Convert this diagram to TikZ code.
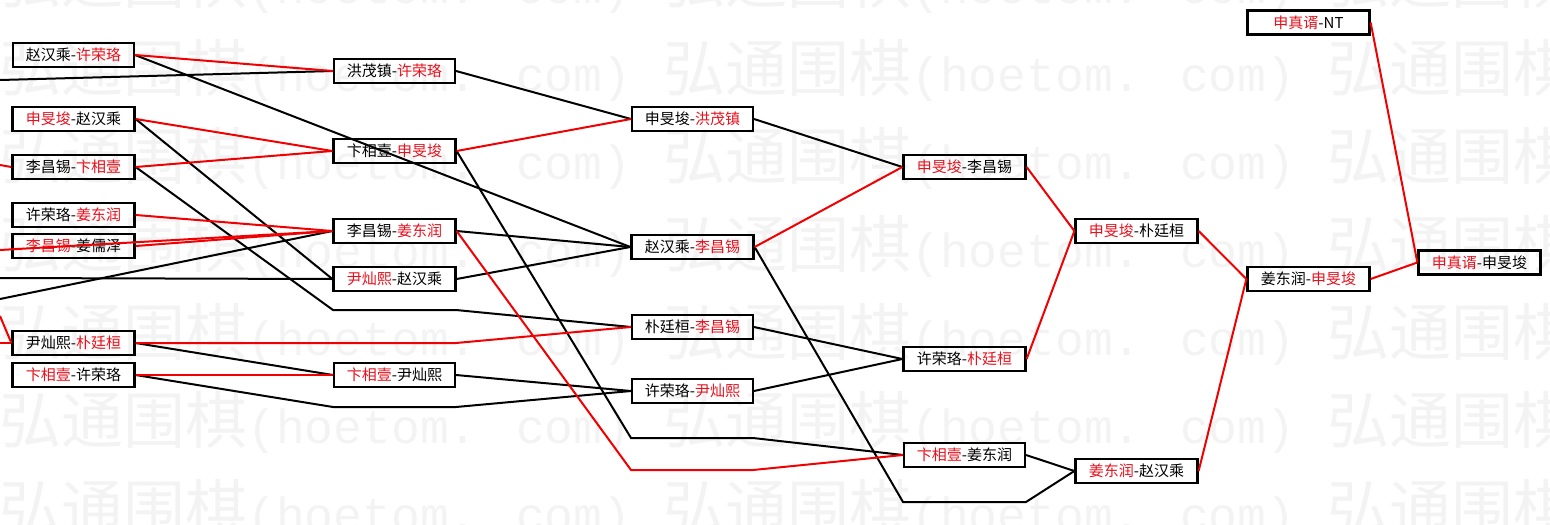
\documentclass[tikz,border=0pt]{standalone}
\usepackage{fontspec}
\newfontfamily\cjk{Noto Sans CJK SC}
\newfontfamily\wmlat{Liberation Mono}
\definecolor{wm}{RGB}{243,243,243}
\definecolor{tr}{RGB}{232,16,28}
\definecolor{lr}{RGB}{240,0,0}
\newcommand\R[1]{\textcolor{tr}{#1}}
\begin{document}
\begin{tikzpicture}[x=0.75pt,y=-0.75pt,
  box/.style={draw=black, line width=1.3pt, minimum width=91pt, minimum height=18pt, inner sep=0pt, font=\cjk\fontsize{11.25}{13}\selectfont},
  boxb/.style={box, line width=2.2pt},
  kl/.style={draw=black, line width=1.5pt},
  rl/.style={draw=lr, line width=1.5pt},
  wmc/.style={inner sep=0pt, text=wm, font=\cjk\fontsize{46.5}{50}\selectfont},
  wml/.style={inner sep=0pt, text=wm, font=\wmlat\fontsize{36}{40}\selectfont}]
\useasboundingbox (0,0) rectangle (1550,525);
\begin{scope}
\clip (0,0) rectangle (1550,525);
\foreach \rowy [count=\i] in {-20,68,156,244,332,420,508} {
  \foreach \colx [count=\j] in {-1,663,1327} {
    \node[wmc, anchor=base west] (wmc-\i-\j) at (\colx,\rowy+23) {弘通围棋};
    \node[wml, anchor=base west] (wml-\i-\j) at (\colx+248,\rowy+23) {(hoetom. com)};
  }
}
\end{scope}
% column 1
\node[box]  (A1) at (73.5,55)  {赵汉乘-\R{许荣珞}};
\node[boxb] (A2) at (73.5,119) {\R{申旻埈}-赵汉乘};
\node[boxb] (A3) at (73.5,167) {李昌锡-\R{卞相壹}};
\node[boxb] (A4) at (73.5,215) {许荣珞-\R{姜东润}};
\node[boxb] (A5) at (73.5,246) {\R{李昌锡}-姜儒泽};
\node[boxb] (A6) at (73.5,343) {尹灿熙-\R{朴廷桓}};
\node[boxb] (A7) at (73.5,375) {\R{卞相壹}-许荣珞};
% column 2
\node[box]  (B1) at (394.5,71)  {洪茂镇-\R{许荣珞}};
\node[boxb] (B2) at (394.5,151) {卞相壹-\R{申旻埈}};
\node[boxb] (B3) at (394.5,231) {李昌锡-\R{姜东润}};
\node[boxb] (B4) at (394.5,279) {\R{尹灿熙}-赵汉乘};
\node[box]  (B5) at (394.5,375) {\R{卞相壹}-尹灿熙};
% column 3
\node[box]  (C1) at (692.5,119) {申旻埈-\R{洪茂镇}};
\node[boxb] (C2) at (692.5,247) {赵汉乘-\R{李昌锡}};
\node[box]  (C3) at (692.5,327) {朴廷桓-\R{李昌锡}};
\node[box]  (C4) at (692.5,391) {许荣珞-\R{尹灿熙}};
% column 4
\node[boxb] (D1) at (964.5,167) {\R{申旻埈}-李昌锡};
\node[boxb] (D2) at (964.5,359) {许荣珞-\R{朴廷桓}};
\node[box]  (D3) at (964.5,455) {\R{卞相壹}-姜东润};
% column 5
\node[boxb] (E1) at (1136.5,231) {\R{申旻埈}-朴廷桓};
\node[boxb] (E2) at (1136.5,471) {\R{姜东润}-赵汉乘};
% column 6
\node[boxb] (F1) at (1308.5,22.5) {\R{申真谞}-NT};
\node[boxb] (F2) at (1308.5,279) {姜东润-\R{申旻埈}};
% column 7
\node[boxb] (G1) at (1479.5,262.5) {\R{申真谞}-申旻埈};
% free ends and bends
\coordinate (L1) at (0,80);
\coordinate (L2) at (0,165);
\coordinate (L3) at (0,250);
\coordinate (L4) at (0,278);
\coordinate (L5) at (0,299);
\coordinate (L6) at (0,316);
\coordinate (L7) at (0,343);
\coordinate (P1a) at (333,310); \coordinate (P1b) at (456,310);
\coordinate (P2a) at (333,343); \coordinate (P2b) at (456,343);
\coordinate (P3a) at (333,407); \coordinate (P3b) at (456,407);
\coordinate (Q1a) at (631,438); \coordinate (Q1b) at (753,438);
\coordinate (Q2a) at (631,470); \coordinate (Q2b) at (753,470);
\coordinate (S1a) at (903,502); \coordinate (S1b) at (1026,502);
% black connectors
\draw[kl] (A1.east) -- (C2.west);
\draw[kl] (L1) -- (B1.west);
\draw[kl] (A2.east) -- (B4.west);
\draw[kl] (A3.east) -- (P1a) -- (P1b) -- (C3.west);
\draw[kl] (L5) -- (B3.west);
\draw[kl] (L4) -- (B4.west);
\draw[kl] (A6.east) -- (B5.west);
\draw[kl] (A7.east) -- (P3a) -- (P3b) -- (C4.west);
\draw[kl] (B1.east) -- (C1.west);
\draw[kl] (B2.east) -- (Q1a) -- (Q1b) -- (D3.west);
\draw[kl] (B3.east) -- (C2.west);
\draw[kl] (B4.east) -- (C2.west);
\draw[kl] (B5.east) -- (C4.west);
\draw[kl] (C1.east) -- (D1.west);
\draw[kl] (C2.east) -- (S1a) -- (S1b) -- (E2.west);
\draw[kl] (C3.east) -- (D2.west);
\draw[kl] (C4.east) -- (D2.west);
\draw[kl] (D3.east) -- (E2.west);
% red connectors
\draw[rl] (A1.east) -- (B1.west);
\draw[rl] (A2.east) -- (B2.west);
\draw[rl] (L2) -- (A3.west);
\draw[rl] (A3.east) -- (B2.west);
\draw[rl] (A4.east) -- (B3.west);
\draw[rl] (A5.east) -- (B3.west);
\draw[rl] (L3) -- (B3.west);
\draw[rl] (L6) -- (A6.west);
\draw[rl] (L7) -- (A6.west);
\draw[rl] (A6.east) -- (P2a) -- (P2b) -- (C3.west);
\draw[rl] (A7.east) -- (B5.west);
\draw[rl] (B2.east) -- (C1.west);
\draw[rl] (B3.east) -- (Q2a) -- (Q2b) -- (D3.west);
\draw[rl] (C2.east) -- (D1.west);
\draw[rl] (D1.east) -- (E1.west);
\draw[rl] (D2.east) -- (E1.west);
\draw[rl] (E1.east) -- (F2.west);
\draw[rl] (E2.east) -- (F2.west);
\draw[rl] (F1.east) -- (G1.west);
\draw[rl] (F2.east) -- (G1.west);
\end{tikzpicture}
\end{document}
